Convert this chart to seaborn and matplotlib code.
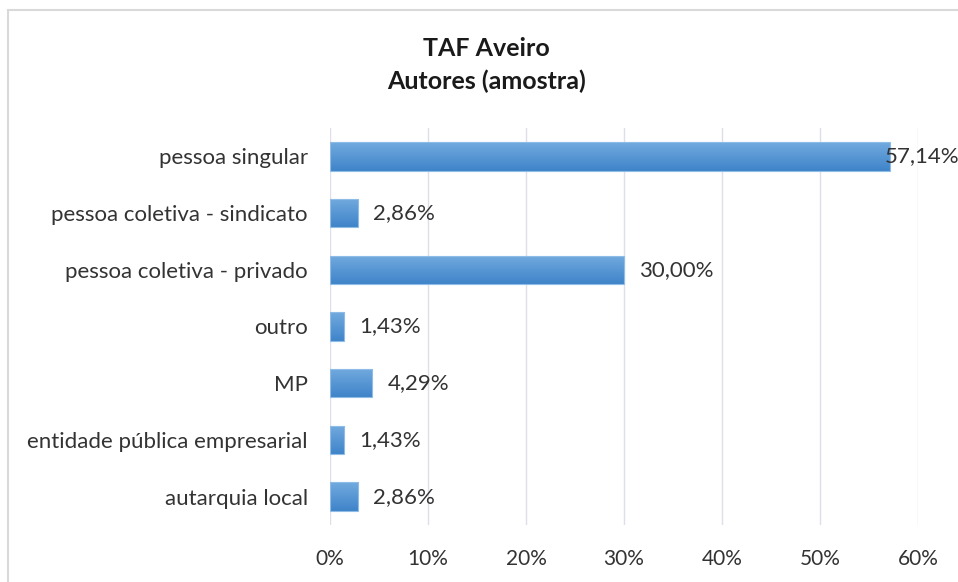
import numpy as np
import pandas as pd
import matplotlib
matplotlib.use("Agg")
import matplotlib.pyplot as plt
import seaborn as sns
from matplotlib.patches import Rectangle
from matplotlib.colors import LinearSegmentedColormap

# Data
categorias = ['pessoa singular', 'pessoa coletiva - sindicato', 'pessoa coletiva - privado',
              'outro', 'MP', 'entidade pública empresarial', 'autarquia local']
percentagens = [57.14, 2.86, 30.00, 1.43, 4.29, 1.43, 2.86]
ticks_x = [0, 10, 20, 30, 40, 50, 60]

df = pd.DataFrame({'categoria': categorias, 'pct': percentagens})

sns.set_style('white')
plt.rcParams['font.family'] = ['Lato', 'DejaVu Sans']

fig = plt.figure(figsize=(9.58, 5.82), dpi=100)
ax = fig.add_axes([330 / 958, 1 - 525 / 582, 588 / 958, 397 / 582])

sns.barplot(data=df, x='pct', y='categoria', order=categorias, color='#5B9BD5',
            width=0.5, ax=ax, saturation=1)

# Excel-like vertical gradient on each bar (lighter on top)
grad = LinearSegmentedColormap.from_list('g', ['#72AADF', '#3F84C9'])
gy = np.linspace(0, 1, 64).reshape(-1, 1)
for p in ax.patches:
    x0, y0 = p.get_x(), p.get_y()
    w, h = p.get_width(), p.get_height()
    p.set_facecolor('none')
    p.set_edgecolor('#8FBCE6')
    p.set_linewidth(0.8)
    im = ax.imshow(gy, cmap=grad, aspect='auto', extent=(x0, x0 + w, y0 + h, y0),
                   origin='upper', zorder=2)
    im.set_clip_path(p)
    p.set_zorder(3)

ax.set_xlim(0, 60)
ax.set_ylim(len(categorias) - 0.5, -0.5)
ax.set_xticks(ticks_x)
ax.set_xticklabels([f'{t}%' for t in ticks_x])
ax.grid(axis='x', color='#DEDFE8', linewidth=1)
ax.set_axisbelow(True)
for s in ax.spines.values():
    s.set_visible(False)
ax.set_xlabel('')
ax.set_ylabel('')
ax.tick_params(axis='y', length=0, pad=16, labelsize=16, labelcolor='#333333')
ax.tick_params(axis='x', length=0, pad=17, labelsize=15, labelcolor='#333333')

# data labels
for i, v in enumerate(percentagens):
    txt = f'{v:.2f}%'.replace('.', ',')
    off = -4 if v > 50 else 11
    ax.annotate(txt, (v, i), xytext=(off, 0), textcoords='offset points',
                va='center', ha='left', fontsize=16, color='#333333',
                annotation_clip=False, zorder=5)

fig.text(0.508, 1 - 48 / 582, 'TAF Aveiro', ha='center', va='center',
         fontsize=18, fontweight='bold', color='#1a1a1a')
fig.text(0.508, 1 - 81 / 582, 'Autores (amostra)', ha='center', va='center',
         fontsize=18, fontweight='bold', color='#1a1a1a')

# chart area border (cropped on right and bottom)
fig.patches.append(Rectangle((8 / 958, -0.1), 1.2, 1 - 10 / 582 + 0.1,
                             transform=fig.transFigure, fill=False,
                             edgecolor='#D9D9D9', linewidth=1.5))

fig.savefig('out.png', dpi=100, facecolor='white')
